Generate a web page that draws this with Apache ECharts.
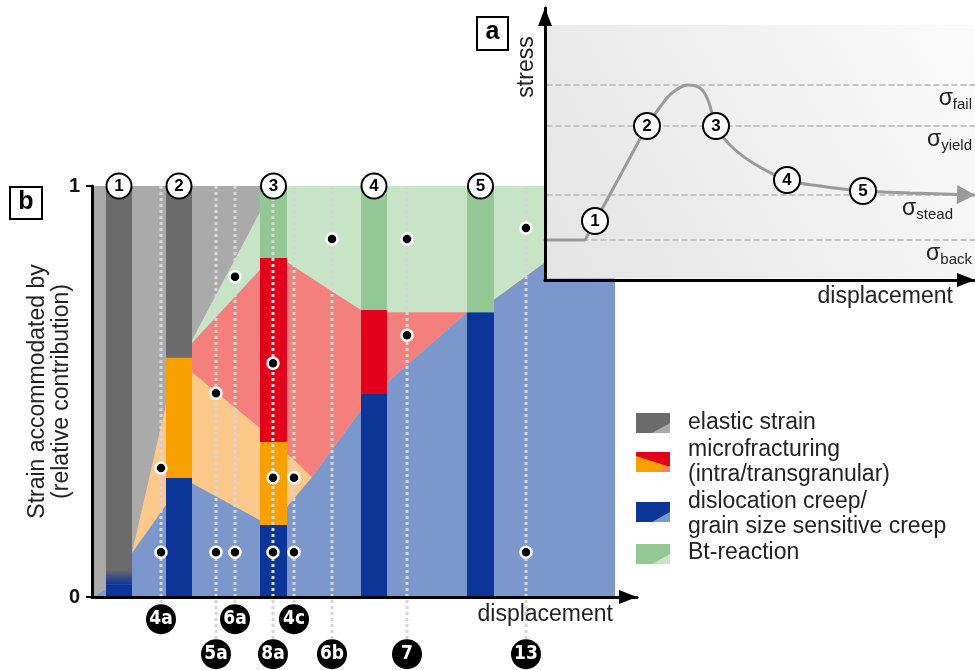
<!DOCTYPE html>
<html><head><meta charset="utf-8">
<script src="https://cdn.jsdelivr.net/npm/echarts@6/dist/echarts.min.js"></script>
<style>html,body{margin:0;padding:0;background:#fff}#c{width:975px;height:670px}</style>
</head><body><div id="c"></div>
<script>
// ---------------- data (panel b) ----------------
const stageLabels  = ['1', '2', '3', '4', '5'];
const stageStart   = [14, 74, 168, 269, 375];     // displacement where stage column starts
const stageEnd     = [40, 100, 195, 295, 402];    // displacement where stage column ends
// relative contributions at each stage (stacked bottom -> top)
const creepShare   = [0.03, 0.290, 0.175, 0.494, 0.693];
const intraShare   = [0, 0.292, 0.202, 0, 0];
const transShare   = [0, 0, 0.448, 0.204, 0];
const btShare      = [0, 0, 0.175, 0.302, 0.307];
const elasticShare = [0.97, 0.418, 0, 0, 0];

// transitional (light) contributions between stages
const transitionX  = [0, 14, 40, 74, 100, 168, 195, 220, 269, 295, 375, 402, 451, 523];
const transCreep   = [0, 0.019, 0.107, 0.224, 0.277, 0.187, 0.219, 0.292, 0.455, 0.521, 0.693, 0.723, 0.810, 0.94];
const transIntra   = [0, 0, 0, 0.243, 0.270, 0.224, 0.131, 0, 0, 0, 0, 0, 0, 0];
const transTrans   = [0, 0, 0, 0, 0.071, 0.385, 0.465, 0.483, 0.243, 0.172, 0, 0, 0, 0];
const transBt      = [0, 0, 0, 0, 0.007, 0.141, 0.185, 0.225, 0.302, 0.307, 0.307, 0.277, 0.190, 0.06];
const transElastic = [1, 0.981, 0.893, 0.533, 0.375, 0.063, 0, 0, 0, 0, 0, 0, 0, 0];

// samples (figure numbers) along displacement
const sampleLabels = ['4a', '5a', '6a', '8a', '4c', '6b', '7', '13'];
const sampleX      = [69, 124, 143, 181, 202, 240, 315, 434];
const sampleRow    = [0, 1, 0, 1, 0, 1, 1, 1];
// observation dots
const obsX = [69, 69, 124, 124, 143, 143, 181, 181, 181, 202, 202, 240, 315, 315, 434, 434];
const obsY = [0.314, 0.109, 0.496, 0.109, 0.779, 0.109, 0.569, 0.290, 0.109, 0.290, 0.109, 0.871, 0.871, 0.637, 0.898, 0.109];

// ---------------- data (panel a) ----------------
const stressX = [0, 40, 75, 102, 115, 127, 143, 155, 163, 171, 185, 208, 242, 275, 318, 365, 430];
const stressY = [40, 40, 104, 154, 173, 187, 195, 192, 180, 154, 135, 117, 100, 94, 89, 87, 85];
const linearUntil = 3;   // index where the straight elastic loading part ends
const stageStressX = [50, 102, 171, 242, 318];
const stageStressY = [59, 154, 154, 100, 89];
const levelNames  = ['fail', 'yield', 'stead', 'back'];
const levelValues = [195, 154, 85, 40];

// ---------------- styles ----------------
const FONT = 'Liberation Sans, Arial, Helvetica, sans-serif';
const NARROW = '"Liberation Sans Narrow", "DejaVu Sans Condensed", Arial, sans-serif';
const COL = {
  creep:   ['#0b3596', '#7b97cc'],
  intra:   ['#f8a000', '#fdc98b'],
  trans:   ['#e2001a', '#f4807d'],
  bt:      ['#93c794', '#c8e4c6'],
  elastic: ['#6b6b6b', '#aaaaaa']
};
const layerKeys = ['creep', 'intra', 'trans', 'bt', 'elastic'];
const stageShares = [creepShare, intraShare, transShare, btShare, elasticShare];
const transShares = [transCreep, transIntra, transTrans, transBt, transElastic];
const ROW_Y = [-0.054, -0.139];   // label rows below the axis (layout)
const INSET_TOP = 255;            // inset panel background top (layout)
const LABEL_RIGHT_GAP = { fail: 3, yield: 3, stead: 22, back: 3 };

// cumulative tops for the light transition areas
const cumTops = [];
let run = transitionX.map(() => 0);
transShares.forEach(arr => { run = run.map((v, i) => v + arr[i]); cumTops.push(run.slice()); });

const series = [];
// light areas, drawn from top layer down so lower layers overlay
for (let k = layerKeys.length - 1; k >= 0; k--) {
  series.push({
    type: 'line', xAxisIndex: 0, yAxisIndex: 0,
    z: 1 + (layerKeys.length - 1 - k),
    data: transitionX.map((x, i) => [x, cumTops[k][i]]),
    symbol: 'none', showSymbol: false,
    lineStyle: { width: 0, opacity: 0 },
    areaStyle: { color: COL[layerKeys[k]][1], opacity: 1, origin: 'start' },
    silent: true, animation: false
  });
}

// stage columns
const barData = [];
stageLabels.forEach((s, i) => {
  let lo = 0;
  stageShares.forEach((arr, k) => {
    const v = arr[i];
    if (v > 0) { barData.push([stageStart[i], stageEnd[i], lo, lo + v, k, i]); lo += v; }
  });
});
series.push({
  type: 'custom', xAxisIndex: 0, yAxisIndex: 0, z: 6, silent: true, animation: false,
  encode: { x: [0, 1], y: [2, 3] },
  data: barData,
  renderItem: (params, api) => {
    const x0 = api.value(0), x1 = api.value(1), lo = api.value(2), hi = api.value(3);
    const k = api.value(4), st = api.value(5);
    const a = api.coord([x0, hi]), b = api.coord([x1, lo]);
    let fill = COL[layerKeys[k]][0];
    if (layerKeys[k] === 'elastic' && st === 0) {
      fill = { type: 'linear', x: 0, y: 0, x2: 0, y2: 1, colorStops: [
        { offset: 0, color: COL.elastic[0] }, { offset: 0.962, color: COL.elastic[0] },
        { offset: 1, color: COL.creep[0] } ] };
    }
    return { type: 'rect', shape: { x: a[0], y: a[1], width: b[0] - a[0], height: b[1] - a[1] }, style: { fill } };
  }
});

// dotted sample lines
series.push({
  type: 'custom', xAxisIndex: 0, yAxisIndex: 0, z: 7, silent: true, animation: false,
  encode: { x: 0, y: 1 },
  data: sampleX.map((x, i) => [x, ROW_Y[sampleRow[i]]]),
  renderItem: (params, api) => {
    const a = api.coord([api.value(0), 1]);
    const b = api.coord([api.value(0), api.value(1)]);
    return { type: 'line', shape: { x1: a[0], y1: a[1], x2: b[0], y2: b[1] },
      style: { stroke: '#d6d6d6', lineWidth: 3, lineDash: [3, 3] } };
  }
});

// observation dots
series.push({
  type: 'scatter', xAxisIndex: 0, yAxisIndex: 0, z: 8, silent: true, animation: false, clip: false,
  data: obsX.map((x, i) => [x, obsY[i]]),
  symbol: 'circle', symbolSize: 11,
  itemStyle: { color: '#000', borderColor: '#fff', borderWidth: 2.5, opacity: 1 }
});

// stage numbers on top
series.push({
  type: 'scatter', xAxisIndex: 0, yAxisIndex: 0, z: 9, silent: true, animation: false, clip: false,
  data: stageLabels.map((s, i) => ({ name: s, value: [(stageStart[i] + stageEnd[i]) / 2, 1] })),
  symbol: 'circle', symbolSize: 25,
  itemStyle: { color: '#fff', borderColor: '#000', borderWidth: 2, opacity: 1 },
  label: { show: true, position: 'inside', formatter: p => p.name, color: '#000', fontSize: 17, fontWeight: 'bold', fontFamily: FONT }
});

// sample labels below axis
series.push({
  type: 'scatter', xAxisIndex: 0, yAxisIndex: 0, z: 9, silent: true, animation: false, clip: false,
  data: sampleLabels.map((s, i) => ({ name: s, value: [sampleX[i], ROW_Y[sampleRow[i]]] })),
  symbol: 'circle', symbolSize: 30,
  itemStyle: { color: '#000', opacity: 1 },
  label: { show: true, position: 'inside', formatter: p => p.name, color: '#fff', fontSize: 19, fontWeight: 'bold', fontFamily: NARROW }
});

// ---- inset (panel a) ----
series.push({
  type: 'custom', xAxisIndex: 1, yAxisIndex: 1, z: 10, silent: true, animation: false,
  data: [[0, 0]],
  renderItem: (params, api) => {
    const a = api.coord([0, INSET_TOP]), b = api.coord([430, 0]);
    return { type: 'rect', shape: { x: a[0] + 1.5, y: a[1], width: b[0] - a[0] - 1.5, height: b[1] - a[1] - 1.5 },
      style: { fill: { type: 'linear', x: 0, y: 1, x2: 1, y2: 0, colorStops: [
        { offset: 0, color: '#e4e4e4' }, { offset: 1, color: '#fbfbfb' } ] } } };
  }
});
// stress levels (dashed) with sigma labels
series.push({
  type: 'custom', xAxisIndex: 1, yAxisIndex: 1, z: 11, silent: true, animation: false,
  encode: { y: 1 },
  data: levelValues.map((v, i) => [0, v, i]),
  renderItem: (params, api) => {
    const v = api.value(1), name = levelNames[api.value(2)];
    const a = api.coord([0, v]), b = api.coord([430, v]);
    return { type: 'group', children: [
      { type: 'line', shape: { x1: a[0] + 1.5, y1: a[1], x2: b[0], y2: b[1] },
        style: { stroke: '#c4c4c4', lineWidth: 2, lineDash: [6, 3] } },
      { type: 'text', style: { text: '{s|σ}{b|' + name + '}', x: b[0] - LABEL_RIGHT_GAP[name], y: b[1] + 1,
          align: 'right', verticalAlign: 'top',
          rich: {
            s: { fontSize: 23, fontFamily: FONT, fill: '#222', lineHeight: 26 },
            b: { fontSize: 15, fontFamily: FONT, fill: '#222', lineHeight: 14, verticalAlign: 'bottom' }
          } } }
    ] };
  }
});
const stressPts = stressX.map((x, i) => [x, stressY[i]]);
series.push({
  type: 'line', xAxisIndex: 1, yAxisIndex: 1, z: 12, silent: true, animation: false, clip: false,
  data: stressPts.slice(0, linearUntil + 1),
  smooth: false, symbol: 'none', showSymbol: false,
  lineStyle: { color: '#9a9a9a', width: 3, join: 'round', cap: 'round' }
});
series.push({
  type: 'line', xAxisIndex: 1, yAxisIndex: 1, z: 12, silent: true, animation: false, clip: false,
  data: stressPts.slice(linearUntil),
  smooth: 0.35, symbol: 'none', showSymbol: false,
  lineStyle: { color: '#9a9a9a', width: 3, cap: 'round' }
});
// arrow head of the stress curve
series.push({
  type: 'custom', xAxisIndex: 1, yAxisIndex: 1, z: 13, silent: true, animation: false,
  encode: { x: 0, y: 1 },
  data: [[stressX[stressX.length - 1], stressY[stressY.length - 1], stressX[stressX.length - 2], stressY[stressY.length - 2]]],
  renderItem: (params, api) => {
    const tip = api.coord([api.value(0), api.value(1)]);
    const prev = api.coord([api.value(2), api.value(3)]);
    const dx = tip[0] - prev[0], dy = tip[1] - prev[1], L = Math.hypot(dx, dy);
    const ux = dx / L, uy = dy / L, len = 18, hw = 9.5;
    const bx = tip[0] - ux * len, by = tip[1] - uy * len;
    return { type: 'polygon', shape: { points: [tip, [bx - uy * hw, by + ux * hw], [bx + uy * hw, by - ux * hw]] },
      style: { fill: '#9a9a9a' } };
  }
});
series.push({
  type: 'scatter', xAxisIndex: 1, yAxisIndex: 1, z: 13, silent: true, animation: false, clip: false,
  data: stageLabels.map((s, i) => ({ name: s, value: [stageStressX[i], stageStressY[i]] })),
  symbol: 'circle', symbolSize: 26,
  itemStyle: { color: '#fff', borderColor: '#000', borderWidth: 2, opacity: 1 },
  label: { show: true, position: 'inside', formatter: p => p.name, color: '#000', fontSize: 17, fontWeight: 'bold', fontFamily: FONT }
});

const axisLineArrow = {
  show: true, onZero: false, symbol: ['none', 'triangle'], symbolSize: [14, 18], symbolOffset: [0, -9],
  lineStyle: { color: '#000', width: 3 }
};

// legend graphics
const legendItems = [
  { key: 'elastic', top: 413, lines: ['elastic strain'], y: [423] },
  { key: 'micro', top: 452, lines: ['microfracturing', '(intra/transgranular)'], y: [450, 475] },
  { key: 'creep', top: 502, lines: ['dislocation creep/', 'grain size sensitive creep'], y: [502, 527] },
  { key: 'bt', top: 544, lines: ['Bt-reaction'], y: [553] }
];
const graphics = [];
const LX = 636, LW = 34, LH = 20;
legendItems.forEach(it => {
  const t = it.top;
  if (it.key === 'micro') {
    graphics.push({ type: 'rect', shape: { x: LX, y: t, width: LW, height: LH }, style: { fill: COL.intra[0] } });
    graphics.push({ type: 'polygon', shape: { points: [[LX, t], [LX + LW, t], [LX + LW, t + 15], [LX, t + 4]] }, style: { fill: COL.trans[0] } });
    graphics.push({ type: 'polygon', shape: { points: [[LX + 20, t + LH], [LX + LW, t + LH], [LX + LW, t + 14]] }, style: { fill: COL.trans[1] } });
  } else {
    graphics.push({ type: 'rect', shape: { x: LX, y: t, width: LW, height: LH }, style: { fill: COL[it.key][0] } });
    graphics.push({ type: 'polygon', shape: { points: [[LX + 16, t + LH], [LX + LW, t + LH], [LX + LW, t + 10]] }, style: { fill: COL[it.key][1] } });
  }
  it.lines.forEach((ln, j) => {
    graphics.push({ type: 'text', style: { text: ln, x: 688, y: it.y[j], align: 'left', verticalAlign: 'middle',
      font: '23px ' + FONT, fill: '#222' } });
  });
});
// panel boxes
graphics.push({ type: 'rect', shape: { x: 477, y: 17, width: 31, height: 33 }, style: { fill: '#fff', stroke: '#000', lineWidth: 2 } });
graphics.push({ type: 'text', style: { text: 'a', x: 492.5, y: 32, align: 'center', verticalAlign: 'middle', font: 'bold 25px ' + FONT, fill: '#000' } });
graphics.push({ type: 'rect', shape: { x: 10, y: 187, width: 32, height: 32 }, style: { fill: '#fff', stroke: '#000', lineWidth: 2 } });
graphics.push({ type: 'text', style: { text: 'b', x: 26, y: 202, align: 'center', verticalAlign: 'middle', font: 'bold 25px ' + FONT, fill: '#000' } });
// axis titles
graphics.push({ type: 'text', style: { text: 'displacement', x: 613, y: 615, align: 'right', verticalAlign: 'middle', font: '23px ' + FONT, fill: '#222' } });
graphics.push({ type: 'text', style: { text: 'displacement', x: 953, y: 297, align: 'right', verticalAlign: 'middle', font: '23px ' + FONT, fill: '#222' } });
graphics.push({ type: 'text', x: 527, y: 67, rotation: Math.PI / 2, style: { text: 'stress', x: 0, y: 0, align: 'center', verticalAlign: 'middle', font: '23px ' + FONT, fill: '#222' } });

const option = {
  animation: false,
  backgroundColor: '#fff',
  grid: [
    { left: 92, top: 186, width: 545, height: 411, outerBoundsMode: 'none', containLabel: false },
    { left: 545, top: 8, width: 430, height: 272, outerBoundsMode: 'none', containLabel: false }
  ],
  xAxis: [
    { gridIndex: 0, type: 'value', min: 0, max: 545, z: 14, axisLine: axisLineArrow,
      axisTick: { show: false }, axisLabel: { show: false }, splitLine: { show: false } },
    { gridIndex: 1, type: 'value', min: 0, max: 430, z: 14, axisLine: axisLineArrow,
      axisTick: { show: false }, axisLabel: { show: false }, splitLine: { show: false } }
  ],
  yAxis: [
    { gridIndex: 0, type: 'value', min: 0, max: 1, interval: 1, z: 14,
      axisLine: { show: true, onZero: false, lineStyle: { color: '#000', width: 3 } },
      axisTick: { show: true, length: 6, lineStyle: { color: '#000', width: 2 } },
      axisLabel: { show: true, fontSize: 20, fontWeight: 'bold', color: '#111', margin: 12, fontFamily: FONT },
      splitLine: { show: false },
      name: 'Strain accommodated by\n(relative contribution)', nameLocation: 'middle', nameGap: 18,
      nameMoveOverlap: false,
      nameTextStyle: { fontSize: 23, lineHeight: 24, color: '#222', fontFamily: FONT } },
    { gridIndex: 1, type: 'value', min: 0, max: 272, z: 14, axisLine: axisLineArrow,
      axisTick: { show: false }, axisLabel: { show: false }, splitLine: { show: false } }
  ],
  graphic: { elements: graphics.map(g => Object.assign({ z: 20, silent: true }, g)) },
  series
};
const chart = echarts.init(document.getElementById('c'));
chart.setOption(option);
</script>
</body></html>
